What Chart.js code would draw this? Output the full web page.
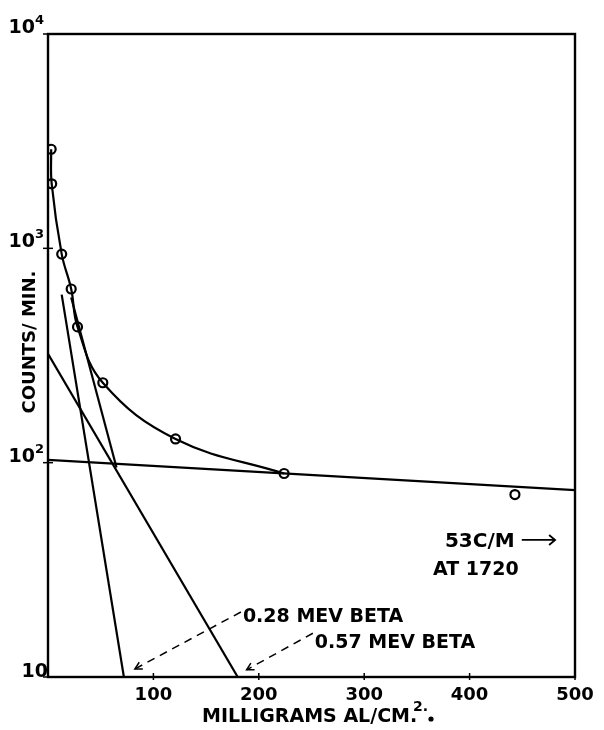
<!DOCTYPE html>
<html>
<head>
<meta charset="utf-8">
<script src="https://cdn.jsdelivr.net/npm/chart.js@4.4.1/dist/chart.umd.min.js"></script>
<style>
  body { margin: 0; background: #fff; }
  canvas { display: block; }
</style>
</head>
<body>
<canvas id="myChart" width="604" height="730"></canvas>
<script>
// measured absorption points (mg Al/cm2, counts/min)
const pointX = [3, 3.5, 13, 22, 28, 52, 121, 224, 443];
const pointY = [2900, 2000, 940, 646, 430, 236, 129, 89, 71];

// smooth curve drawn through the points
const curveX = [3, 3.5, 13, 22, 28, 52, 121, 224];
const curveY = [2900, 2000, 940, 646, 430, 236, 129, 89];

// straight component lines
const gammaX = [0, 500];
const gammaY = [103, 74.5];
const beta28X = [13, 72];
const beta28Y = [608, 10];
const beta57X = [0, 180];
const beta57Y = [322, 10];
const sumX = [22, 65];
const sumY = [590, 95];

const xTicks = [100, 200, 300, 400, 500];
const yTicks = [10, 100, 1000, 10000];

function toPts(xs, ys) {
    return xs.map((x, i) => ({x: x, y: ys[i]}));
}

function lineSet(xs, ys) {
    return {
        data: toPts(xs, ys),
        borderColor: '#000',
        borderWidth: 2.2,
        pointRadius: 0,
        showLine: true,
        fill: false
    };
}

const FONT = '"DejaVu Sans", sans-serif';

const paperText = {
    id: 'paperText',
    afterDraw(chart) {
        const ctx = chart.ctx;
        const area = chart.chartArea;
        const xs = chart.scales.x;
        const ys = chart.scales.y;
        ctx.save();
        ctx.fillStyle = '#000';
        ctx.strokeStyle = '#000';

        // frame
        ctx.lineWidth = 2.4;
        ctx.strokeRect(area.left, area.top, area.right - area.left, area.bottom - area.top);

        // y ticks + labels
        ctx.lineWidth = 1.5;
        yTicks.forEach(v => {
            const py = ys.getPixelForValue(v);
            ctx.beginPath();
            ctx.moveTo(area.left - 5, py);
            ctx.lineTo(area.left + 5, py);
            ctx.stroke();
            ctx.textBaseline = 'alphabetic';
            if (v == 10) {
                ctx.font = 'bold 19px ' + FONT;
                ctx.textAlign = 'right';
                ctx.fillText('10', area.left, py);
            } else {
                ctx.font = 'bold 19px ' + FONT;
                ctx.textAlign = 'right';
                ctx.fillText('10', 35, py - 1);
                ctx.font = 'bold 13px ' + FONT;
                ctx.textAlign = 'left';
                ctx.fillText(String(Math.round(Math.log10(v))), 35, py - 10);
            }
        });

        // x ticks + labels
        xTicks.forEach(v => {
            const px = xs.getPixelForValue(v);
            ctx.beginPath();
            ctx.moveTo(px, area.bottom - 4);
            ctx.lineTo(px, area.bottom + 3);
            ctx.stroke();
            ctx.font = 'bold 18px ' + FONT;
            ctx.textAlign = 'center';
            ctx.fillText(String(v), px, 700);
        });

        // axis titles
        ctx.font = 'bold 19px ' + FONT;
        ctx.textAlign = 'left';
        ctx.fillText('MILLIGRAMS AL/CM.', 202, 722);
        ctx.font = 'bold 14px ' + FONT;
        ctx.fillText('2.', 413, 711);
        ctx.beginPath();
        ctx.arc(431, 719, 2.6, 0, Math.PI * 2);
        ctx.fill();

        ctx.save();
        ctx.translate(30, 342);
        ctx.rotate(-Math.PI / 2);
        ctx.font = 'bold 18px ' + FONT;
        ctx.textAlign = 'center';
        ctx.textBaseline = 'middle';
        ctx.fillText('COUNTS/ MIN.', 0, 0);
        ctx.restore();

        // annotations, placed in data units
        function P(x, y) { return [xs.getPixelForValue(x), ys.getPixelForValue(y)]; }
        ctx.textAlign = 'left';
        ctx.textBaseline = 'alphabetic';
        ctx.font = 'bold 20px ' + FONT;
        let p = P(376.6, 40.5);
        ctx.fillText('53C/M', p[0], p[1]);
        ctx.font = 'bold 19px ' + FONT;
        p = P(365.3, 29.9);
        ctx.fillText('AT 1720', p[0], p[1]);
        p = P(184.9, 18.1);
        ctx.fillText('0.28 MEV BETA', p[0], p[1]);
        p = P(253.2, 13.6);
        ctx.fillText('0.57 MEV BETA', p[0], p[1]);

        // solid arrow after 53C/M
        let a = P(449.5, 43.6), b = P(481.1, 43.6);
        ctx.lineWidth = 1.8;
        ctx.setLineDash([]);
        ctx.beginPath();
        ctx.moveTo(a[0], a[1]); ctx.lineTo(b[0], b[1]);
        ctx.moveTo(b[0] - 6, b[1] - 5); ctx.lineTo(b[0], b[1]); ctx.lineTo(b[0] - 6, b[1] + 5);
        ctx.stroke();

        // dashed arrows to the component lines
        function dashArrow(x1, y1, x2, y2) {
            const s = P(x1, y1), e = P(x2, y2);
            ctx.lineWidth = 1.5;
            ctx.setLineDash([8, 6]);
            ctx.beginPath();
            ctx.moveTo(s[0], s[1]); ctx.lineTo(e[0], e[1]);
            ctx.stroke();
            ctx.setLineDash([]);
            const ang = Math.atan2(e[1] - s[1], e[0] - s[0]);
            const L = 8;
            ctx.beginPath();
            ctx.moveTo(e[0] - L * Math.cos(ang - 0.5), e[1] - L * Math.sin(ang - 0.5));
            ctx.lineTo(e[0], e[1]);
            ctx.lineTo(e[0] - L * Math.cos(ang + 0.5), e[1] - L * Math.sin(ang + 0.5));
            ctx.stroke();
        }
        dashArrow(183, 20.1, 82.4, 10.9);
        dashArrow(251.3, 16.0, 188.4, 10.8);

        ctx.restore();
    }
};

const curveSet = lineSet(curveX, curveY);
curveSet.tension = 0.4;

const config = {
    type: 'scatter',
    data: {
        datasets: [
            lineSet(gammaX, gammaY),
            lineSet(beta28X, beta28Y),
            lineSet(beta57X, beta57Y),
            lineSet(sumX, sumY),
            curveSet,
            {
                data: toPts(pointX, pointY),
                showLine: false,
                pointRadius: 4.5,
                pointBorderWidth: 2.2,
                pointBackgroundColor: '#fff',
                pointBorderColor: '#000'
            }
        ]
    },
    options: {
        responsive: false,
        animation: false,
        layout: { padding: { left: 48, right: 29, top: 34, bottom: 53 } },
        plugins: {
            legend: { display: false },
            tooltip: { enabled: false }
        },
        scales: {
            x: { type: 'linear', min: 0, max: 500, display: false },
            y: { type: 'logarithmic', min: 10, max: 10000, display: false }
        }
    },
    plugins: [paperText]
};

new Chart(document.getElementById('myChart'), config);
</script>
</body>
</html>
